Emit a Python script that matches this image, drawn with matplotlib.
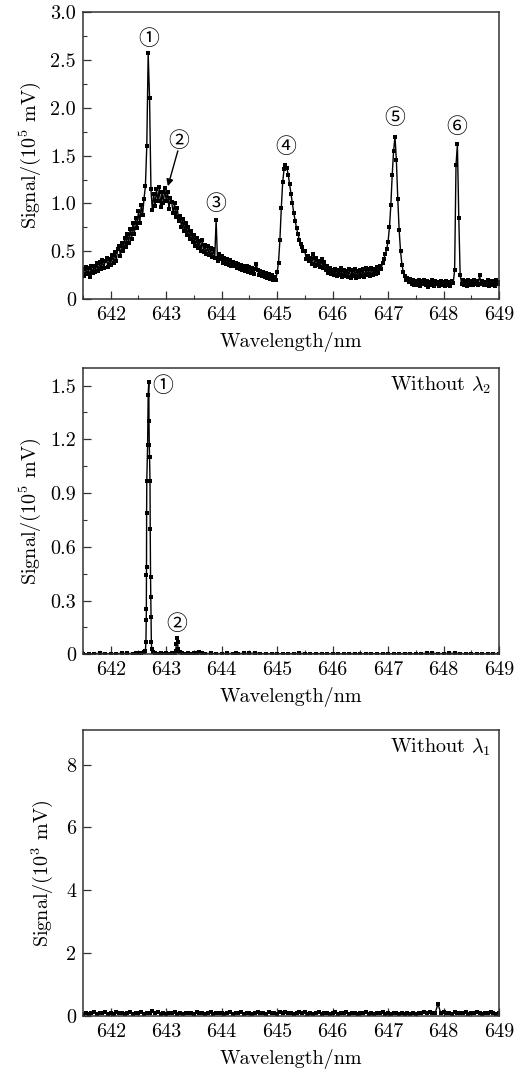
import numpy as np
import matplotlib
matplotlib.use('Agg')
import matplotlib.pyplot as plt
from matplotlib.ticker import MultipleLocator

plt.rcParams['font.family'] = ['cmr10', 'DejaVu Sans']
plt.rcParams['mathtext.fontset'] = 'cm'
plt.rcParams['axes.formatter.use_mathtext'] = True

# ---- panel 1: full spectrum, signal in 1e5 mV, sampled every 0.025 nm from 641.5 nm
wl1_start, wl1_step = 641.5, 0.025
sig1 = [
    0.31, 0.24, 0.33, 0.26, 0.32, 0.23, 0.34, 0.27, 0.35, 0.28,
    0.38, 0.29, 0.39, 0.31, 0.41, 0.32, 0.40, 0.43, 0.33, 0.42,
    0.36, 0.46, 0.38, 0.49, 0.40, 0.52, 0.55, 0.45, 0.59, 0.50,
    0.64, 0.54, 0.68, 0.59, 0.73, 0.63, 0.79, 0.68, 0.85, 0.74,
    0.92, 0.80, 0.98, 0.88, 1.05, 1.18, 1.60, 2.57, 2.10, 1.15,
    0.93, 1.10, 0.97, 1.15, 1.02, 1.17, 0.96, 1.12, 1.00, 1.16,
    1.03, 1.12, 0.94, 1.06, 1.01, 0.90, 1.00, 0.86, 0.95, 0.82,
    0.87, 0.75, 0.84, 0.71, 0.79, 0.67, 0.75, 0.63, 0.71, 0.60,
    0.67, 0.55, 0.64, 0.53, 0.61, 0.50, 0.62, 0.49, 0.57, 0.47,
    0.55, 0.46, 0.53, 0.44, 0.52, 0.43, 0.83, 0.40, 0.47, 0.42,
    0.45, 0.38, 0.43, 0.37, 0.42, 0.36, 0.41, 0.35, 0.39, 0.34,
    0.38, 0.32, 0.37, 0.31, 0.36, 0.30, 0.35, 0.29, 0.34, 0.28,
    0.33, 0.27, 0.32, 0.26, 0.31, 0.37, 0.30, 0.25, 0.29, 0.24,
    0.28, 0.23, 0.27, 0.22, 0.26, 0.21, 0.25, 0.20, 0.23, 0.20,
    0.28, 0.38, 0.62, 0.95, 1.22, 1.36, 1.40, 1.37, 1.30, 1.20,
    1.10, 1.00, 0.90, 0.82, 0.74, 0.68, 0.62, 0.58, 0.54, 0.50,
    0.50, 0.42, 0.45, 0.40, 0.43, 0.37, 0.47, 0.35, 0.43, 0.36,
    0.40, 0.33, 0.42, 0.32, 0.39, 0.30, 0.35, 0.27, 0.32, 0.26,
    0.30, 0.25, 0.31, 0.24, 0.30, 0.25, 0.32, 0.23, 0.30, 0.24,
    0.29, 0.23, 0.31, 0.22, 0.30, 0.24, 0.31, 0.22, 0.29, 0.23,
    0.30, 0.24, 0.31, 0.23, 0.32, 0.25, 0.31, 0.24, 0.32, 0.25,
    0.31, 0.26, 0.33, 0.27, 0.35, 0.31, 0.38, 0.42, 0.47, 0.52,
    0.60, 0.75, 0.98, 1.30, 1.55, 1.70, 1.45, 1.05, 0.72, 0.50,
    0.36, 0.28, 0.24, 0.20, 0.22, 0.18, 0.21, 0.16, 0.20, 0.15,
    0.19, 0.15, 0.20, 0.14, 0.19, 0.16, 0.20, 0.15, 0.19, 0.13,
    0.18, 0.15, 0.20, 0.14, 0.19, 0.16, 0.18, 0.14, 0.19, 0.15,
    0.18, 0.14, 0.19, 0.15, 0.18, 0.14, 0.19, 0.17, 0.30, 1.40,
    1.62, 0.85, 0.25, 0.16, 0.20, 0.15, 0.19, 0.14, 0.20, 0.15,
    0.19, 0.15, 0.20, 0.16, 0.19, 0.15, 0.25, 0.16, 0.19, 0.15,
    0.18, 0.15, 0.20, 0.14, 0.19, 0.15, 0.19, 0.14, 0.20, 0.16,
    0.18,
]

# ---- panel 2: without lambda_2, signal in 1e5 mV
wl2 = [641.5, 641.6, 641.7, 641.8, 641.9, 642.0, 642.1, 642.2, 642.3, 642.4,
       642.45, 642.5, 642.55,
       642.600, 642.625, 642.635, 642.640, 642.642, 642.644, 642.645, 642.647,
       642.650, 642.665, 642.675, 642.686,
       642.690, 642.695, 642.700, 642.708, 642.712, 642.718, 642.722, 642.727,
       642.732, 642.738, 642.755, 642.80, 642.85, 642.9, 642.95, 643.0,
       643.05, 643.1, 643.15, 643.17, 643.185, 643.195, 643.205, 643.215,
       643.24, 643.28, 643.35, 643.4, 643.45, 643.5, 643.55, 643.6, 643.65,
       643.7, 643.8, 643.9, 644.0, 644.1, 644.2, 644.25, 644.3, 644.4,
       644.5, 644.6, 644.7, 644.8, 644.9, 645.0, 645.1, 645.2, 645.3,
       645.4, 645.5, 645.6, 645.7, 645.8, 645.9, 646.0, 646.1, 646.2,
       646.3, 646.4, 646.5, 646.6, 646.7, 646.8, 646.9, 647.0, 647.1,
       647.2, 647.3, 647.4, 647.5, 647.6, 647.7, 647.8, 647.9, 648.0,
       648.1, 648.2, 648.3, 648.4, 648.5, 648.6, 648.7, 648.8, 648.9, 649.0]
sig2 = [0.004, 0.003, 0.004, 0.005, 0.004, 0.003, 0.004, 0.005, 0.005, 0.004,
        0.006, 0.005, 0.008,
        0.010, 0.020, 0.070, 0.190, 0.250, 0.440, 0.490, 0.790,
        0.970, 1.170, 1.450, 1.520,
        1.300, 1.170, 1.100, 0.970, 0.700, 0.430, 0.320, 0.210,
        0.070, 0.030, 0.010, 0.006, 0.004, 0.005, 0.004, 0.005,
        0.004, 0.006, 0.008, 0.020, 0.060, 0.090, 0.070, 0.030,
        0.010, 0.006, 0.004, 0.005, 0.004, 0.006, 0.005, 0.012, 0.006,
        0.004, 0.005, 0.004, 0.004, 0.005, 0.004, 0.008, 0.004, 0.005,
        0.005, 0.007, 0.004, 0.003, 0.004, 0.004, 0.003, 0.004, 0.004,
        0.005, 0.004, 0.003, 0.004, 0.004, 0.003, 0.004, 0.004, 0.003,
        0.004, 0.004, 0.003, 0.004, 0.004, 0.003, 0.004, 0.004, 0.003,
        0.004, 0.004, 0.004, 0.003, 0.004, 0.005, 0.006, 0.004, 0.004,
        0.005, 0.006, 0.004, 0.003, 0.004, 0.004, 0.003, 0.004, 0.004, 0.004]

# ---- panel 3: without lambda_1, signal in 1e3 mV, sampled every 0.05 nm from 641.5 nm
wl3_start, wl3_step = 641.5, 0.05
sig3 = [
    0.07, 0.10, 0.06, 0.09, 0.11, 0.07, 0.10, 0.08, 0.11, 0.07,
    0.10, 0.06, 0.11, 0.08, 0.10, 0.07, 0.09, 0.11, 0.06, 0.10,
    0.08, 0.11, 0.07, 0.10, 0.09, 0.16, 0.08, 0.11, 0.07, 0.10,
    0.06, 0.09, 0.08, 0.11, 0.07, 0.10, 0.06, 0.09, 0.08, 0.10,
    0.07, 0.11, 0.08, 0.10, 0.06, 0.09, 0.11, 0.07, 0.10, 0.08,
    0.09, 0.06, 0.10, 0.13, 0.07, 0.10, 0.08, 0.11, 0.07, 0.09,
    0.10, 0.06, 0.09, 0.11, 0.08, 0.10, 0.07, 0.12, 0.08, 0.10,
    0.07, 0.11, 0.08, 0.13, 0.09, 0.10, 0.06, 0.09, 0.11, 0.08,
    0.12, 0.07, 0.10, 0.06, 0.09, 0.11, 0.07, 0.10, 0.08, 0.06,
    0.09, 0.11, 0.07, 0.10, 0.08, 0.11, 0.06, 0.09, 0.10, 0.07,
    0.10, 0.08, 0.11, 0.07, 0.09, 0.06, 0.10, 0.08, 0.11, 0.07,
    0.09, 0.06, 0.08, 0.10, 0.07, 0.09, 0.05, 0.08, 0.06, 0.09,
    0.07, 0.10, 0.08, 0.11, 0.09, 0.12, 0.08, 0.10, 0.38, 0.09,
    0.11, 0.08, 0.10, 0.07, 0.11, 0.09, 0.10, 0.08, 0.11, 0.07,
    0.10, 0.08, 0.11, 0.09, 0.07, 0.10, 0.08, 0.11, 0.09, 0.07,
    0.09,
]

# peak labels: (label, wavelength, signal)
labels1 = [('①', 642.686, 2.72), ('②', 643.23, 1.65), ('③', 643.894, 0.99),
           ('④', 645.157, 1.59), ('⑤', 647.124, 1.89), ('⑥', 648.237, 1.80)]
labels2 = [('①', 642.944, 1.50), ('②', 643.196, 0.17)]

wl1 = wl1_start + wl1_step * np.arange(len(sig1))
wl3 = wl3_start + wl3_step * np.arange(len(sig3))

fig = plt.figure(figsize=(5.23, 10.77), dpi=100)
ax1 = fig.add_axes([0.1587, 0.7224, 0.7954, 0.2662])
ax2 = fig.add_axes([0.1587, 0.3925, 0.7954, 0.2661])
ax3 = fig.add_axes([0.1587, 0.0567, 0.7954, 0.2655])

fs = 14.5
line_kw = dict(color='black', lw=1.0, marker='s', ms=2.7, mew=0)

ax1.plot(wl1, sig1, **line_kw)
ax2.plot(wl2, sig2, **line_kw)
ax3.plot(wl3, sig3, **line_kw)

for ax in (ax1, ax2, ax3):
    ax.set_xlim(641.5, 649.0)
    ax.set_xticks(range(642, 650))
    ax.set_xticklabels([str(v) for v in range(642, 650)])
    ax.xaxis.set_minor_locator(MultipleLocator(0.5))
    ax.tick_params(which='both', direction='in', top=False, right=False,
                   labelsize=fs, color='#333333', pad=5)
    ax.tick_params(which='major', length=5.5, width=0.9)
    ax.tick_params(which='minor', length=3, width=0.8)
    for s in ax.spines.values():
        s.set_linewidth(1.1)
        s.set_color('#333333')
    ax.set_xlabel('Wavelength/nm', fontsize=fs, labelpad=6)

ax1.set_ylim(0, 3.0)
ax1.set_yticks([0, 0.5, 1.0, 1.5, 2.0, 2.5, 3.0])
ax1.set_yticklabels(['0', '0.5', '1.0', '1.5', '2.0', '2.5', '3.0'])
ax1.yaxis.set_minor_locator(MultipleLocator(0.25))
ax1.set_ylabel('Signal/(10$^5$ mV)', fontsize=fs, labelpad=5)

ax2.set_ylim(0, 1.6)
ax2.set_yticks([0, 0.3, 0.6, 0.9, 1.2, 1.5])
ax2.set_yticklabels(['0', '0.3', '0.6', '0.9', '1.2', '1.5'])
ax2.yaxis.set_minor_locator(MultipleLocator(0.15))
ax2.set_ylabel('Signal/(10$^5$ mV)', fontsize=fs, labelpad=5)

ax3.set_ylim(0, 9.1)
ax3.set_yticks([0, 2, 4, 6, 8])
ax3.set_yticklabels(['0', '2', '4', '6', '8'])
ax3.set_ylabel('Signal/(10$^3$ mV)', fontsize=fs, labelpad=8)

circ_font = ['Noto Sans CJK SC', 'DejaVu Sans']
for lab, x, y in labels1:
    ax1.text(x, y, lab, ha='center', va='center', fontsize=15,
             family=circ_font)
for lab, x, y in labels2:
    ax2.text(x, y, lab, ha='center', va='center', fontsize=15,
             family=circ_font)

ax1.annotate('', xy=(643.03, 1.18), xytext=(643.21, 1.55),
             arrowprops=dict(arrowstyle='-|>', color='black', lw=1.0,
                             mutation_scale=10, shrinkA=0, shrinkB=0))

ax2.text(0.98, 0.94, r'Without $\lambda_2$', transform=ax2.transAxes,
         ha='right', va='center', fontsize=fs)
ax3.text(0.98, 0.94, r'Without $\lambda_1$', transform=ax3.transAxes,
         ha='right', va='center', fontsize=fs)

fig.savefig('out.png', dpi=100)
